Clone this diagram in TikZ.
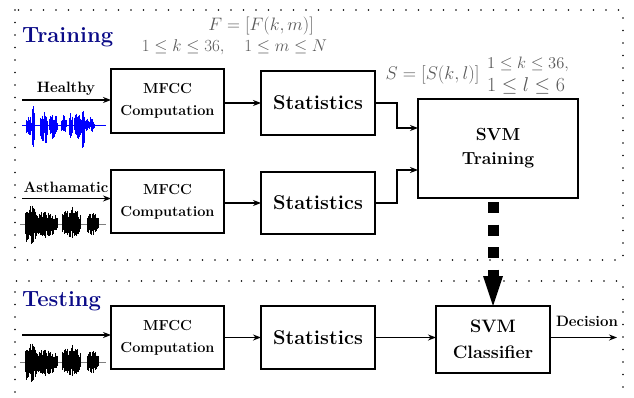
\documentclass[tikz,border=0pt]{standalone}
\usepackage{fix-cm}
\usepackage{fontspec}
\usetikzlibrary{arrows.meta,calc}
\definecolor{titleblue}{RGB}{10,10,135}
\definecolor{wblue}{RGB}{0,0,255}
\newcommand{\wburst}[7]{%
  \pgfmathtruncatemacro\wvN{(#3-#2)*2}%
  \foreach \wvI in {0,...,\wvN}{%
    \pgfmathsetmacro\wvX{#2+\wvI*0.5}%
    \pgfmathsetmacro\wvE{0.55+0.45*sin(180*(\wvI+0.5)/(\wvN+1))}%
    \pgfmathsetmacro\wvU{#4*\wvE*(#7+(1-#7)*rnd)}%
    \pgfmathsetmacro\wvD{#5*\wvE*(#7+(1-#7)*rnd)}%
    \draw[#6, line width=0.45pt] (\wvX,#1-\wvU) -- (\wvX,#1+\wvD);
  }}
\tikzset{
  box/.style={draw, line width=1.5pt, inner sep=0pt, outer sep=0pt, align=center,
    font=\fontsize{14.5}{22}\selectfont\bfseries},
  bigfont/.style={font=\fontsize{20}{25}\selectfont\bfseries},
  arr/.style={line width=1.3pt, -{Stealth[length=8pt,width=6pt]}},
  lab/.style={inner sep=0pt, font=\fontsize{15}{18}\selectfont\bfseries},
  ttl/.style={inner sep=0pt, anchor=base west, text=titleblue,
    font=\fontsize{22}{24}\selectfont\bfseries},
  frm/.style={inner sep=0pt, text=black!65},
  dotbox/.style={line width=1.8pt, line cap=round, dash pattern=on 0pt off 12.5pt},
}
\begin{document}
\begin{tikzpicture}[x=1pt,y=-1pt]
\useasboundingbox (0,0) rectangle (634,398);
% frames
\draw[dotbox] (15,10) rectangle (623,260);
\draw[dotbox] (15,392) -- (15,281) -- (623,281) -- (623,392);
% titles
\node[ttl] (ttr) at (22,42.5) {Training};
\node[ttl] (tte) at (22,306.5) {Testing};
% boxes
\node[box, minimum width=113pt, minimum height=64pt] (m1) at (167.5,101) {MFCC\\Computation};
\node[box, bigfont, minimum width=114pt, minimum height=64pt] (s1) at (318,103) {Statistics};
\node[box, minimum width=113pt, minimum height=63pt] (m2) at (167.5,201.5) {MFCC\\Computation};
\node[box, bigfont, minimum width=114pt, minimum height=62pt] (s2) at (318,203) {Statistics};
\node[box, font=\fontsize{17.5}{24}\selectfont\bfseries, minimum width=160pt, minimum height=99pt] (svt) at (498,148.5) {SVM\\Training};
\node[box, minimum width=113pt, minimum height=63pt] (m3) at (167.5,337.5) {MFCC\\Computation};
\node[box, bigfont, minimum width=114pt, minimum height=63pt] (s3) at (318,337.5) {Statistics};
\node[box, font=\fontsize{18}{26}\selectfont\bfseries, minimum width=114pt, minimum height=67pt] (svc) at (493,339.5) {SVM\\Classifier};
% formulas
\node[frm, font=\fontsize{18}{20}\selectfont] (f1) at (261,26) {$F=[F(k,m)]$};
\node[frm, font=\fontsize{17}{20}\selectfont] (f2) at (234.5,47) {$1\le k\le 36,\quad 1\le m\le N$};
\node[frm, font=\fontsize{18.4}{20}\selectfont] (sa) at (432.5,75) {$S=[S(k,l)]$};
\node[frm, font=\fontsize{16.5}{20}\selectfont] (sb) at (528,64) {$1\le k\le 36,$};
\node[frm, font=\fontsize{20}{20}\selectfont] (sc) at (526,86) {$1\le l\le 6$};
% inputs
\coordinate (hin) at (22,100);
\draw[arr] (hin) -- (hin -| m1.west);
\node[lab, anchor=base] (hl) at (66,93) {Healthy};
\coordinate (ain) at (22,198.5);
\draw[arr] (ain) -- (ain -| m2.west);
\node[lab, anchor=base] (al) at (66,193) {Asthamatic};
\coordinate (tin) at (22,335);
\draw[arr] (tin) -- (tin -| m3.west);
% chain
\draw[arr] (m1.east |- s1.west) -- (s1.west);
\draw[arr] (m2.east |- s2.west) -- (s2.west);
\draw[arr] (m3.east) -- (s3.west);
\coordinate (j1) at (397,128);
\coordinate (j2) at (397,170);
\draw[arr] (s1.east) -| (j1) -- (j1 -| svt.west);
\draw[arr] (s2.east) -| (j2) -- (j2 -| svt.west);
\draw[arr] (s3.east) -- (s3.east -| svc.west);
\coordinate (dout) at (617,337.5);
\draw[arr] (svc.east |- dout) -- (dout);
\node[lab, anchor=base] (dl) at (587,326) {Decision};
% dashed model arrow
\draw[line width=11pt, dash pattern=on 11pt off 11.5pt, dash phase=18.5pt,
  -{Triangle[length=30pt,width=20pt,line width=0pt]}] (svt.south -| svc.north) -- (svc.north);
% waveforms
\draw[wblue, line width=0.4pt] (22,125) -- (106,125);
\pgfmathsetseed{11}
\wburst{125}{26}{31}{11}{13}{wblue}{0.2}
\wburst{125}{32}{34}{19}{26}{wblue}{0.8}
\wburst{125}{40}{47}{14}{28}{wblue}{0.2}
\wburst{125}{49}{57}{13}{15}{wblue}{0.2}
\wburst{125}{61}{66}{10}{12}{wblue}{0.2}
\wburst{125}{69}{72}{13}{13}{wblue}{0.3}
\wburst{125}{74}{81}{13}{15}{wblue}{0.5}
\wburst{125}{82}{84}{15}{27}{wblue}{0.8}
\wburst{125}{85}{94}{8}{8}{wblue}{0.1}
\foreach \wb in {224,362}{
  \draw[black!50, line width=0.4pt] (20,\wb) -- (106,\wb);
  \pgfmathsetseed{7}
  \wburst{\wb}{25}{36}{20}{24}{black}{0.35}
  \wburst{\wb}{36}{57}{14}{14}{black}{0.35}
  \wburst{\wb}{62}{80}{18}{15}{black}{0.35}
  \wburst{\wb}{87}{98}{12}{12}{black}{0.35}
}
\end{tikzpicture}
\end{document}
